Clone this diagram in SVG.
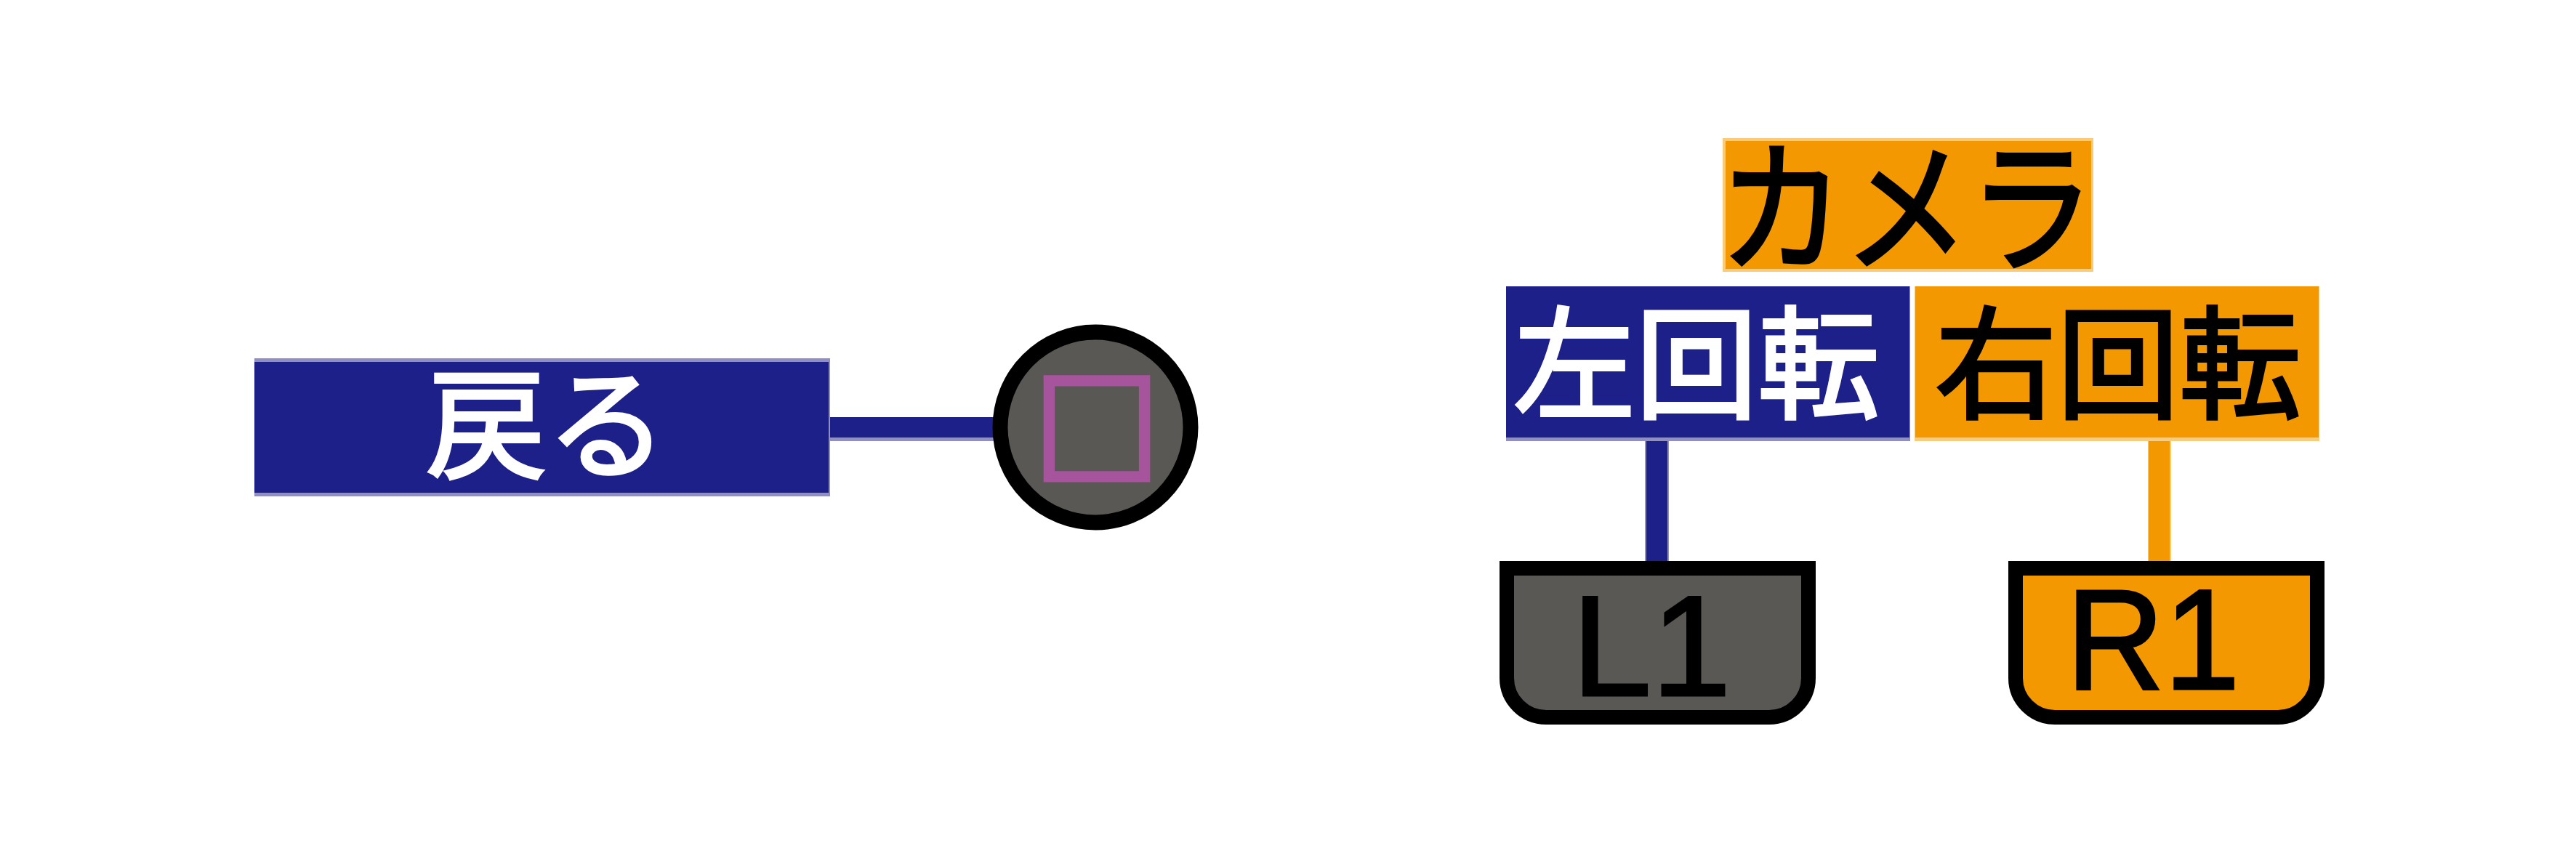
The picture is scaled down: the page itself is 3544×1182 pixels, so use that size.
<svg xmlns="http://www.w3.org/2000/svg" width="3544" height="1182" viewBox="0 0 3544 1182">
<style>
.t{font-family:"Noto Sans CJK JP","Noto Sans CJK SC",sans-serif;text-anchor:middle;stroke-width:4}
.l{font-family:"Liberation Sans",sans-serif;text-anchor:middle;stroke-width:3}
.bt{fill:#8f8fc6}.b{fill:#1d2088}.ot{fill:#f9cb7c}.o{fill:#f39800}
.g{fill:#595855;stroke:#000;stroke-width:20}.og{fill:#f39800;stroke:#000;stroke-width:20}
.w{fill:#fff;stroke:#fff}.k{fill:#000;stroke:#000}
</style>
<rect width="3544" height="1182" fill="#fff"/>
<g id="connectors">
<rect class="bt" x="1141" y="574" width="240" height="33"/>
<rect class="b" x="1141" y="574" width="240" height="28"/>
<rect class="bt" x="2263" y="600" width="33" height="172"/>
<rect class="b" x="2265" y="600" width="29" height="172"/>
<rect class="ot" x="2955" y="600" width="32" height="172"/>
<rect class="o" x="2956" y="600" width="29" height="172"/>
</g>
<g id="node-back">
<rect class="bt" x="350" y="493" width="792" height="190"/>
<rect class="b" x="350" y="498" width="790" height="180"/>
<text class="t w" x="752" y="645" font-size="166">戻る</text>
</g>
<g id="node-square">
<circle cx="1507" cy="588" r="131" fill="#595855" stroke="#000" stroke-width="21"/>
<text class="t" x="1509" y="655" font-size="172" fill="#a6549c" stroke="#a6549c" style="stroke-width:9">□</text>
</g>
<g id="node-camera">
<rect class="ot" x="2370" y="190" width="510" height="184"/>
<rect class="o" x="2374" y="194" width="503" height="176"/>
<text class="t k" transform="translate(2623 358) scale(1 1.14)" font-size="172">カメラ</text>
</g>
<g id="node-left">
<rect class="bt" x="2072" y="394" width="556" height="213"/>
<rect class="b" x="2072" y="394" width="555" height="208"/>
<text class="t w" x="2334" y="563" font-size="168">左回転</text>
</g>
<g id="node-right">
<rect class="ot" x="2634" y="394" width="557" height="213"/>
<rect class="o" x="2635" y="394" width="555" height="208"/>
<text class="t k" x="2914" y="563" font-size="168">右回転</text>
</g>
<g id="node-l1">
<path class="g" d="M2073 782H2488V933A54 54 0 0 1 2434 987H2127A54 54 0 0 1 2073 933Z"/>
<text class="l k" x="2272" y="957" font-size="197">L1</text>
</g>
<g id="node-r1">
<path class="og" d="M2773 782H3188V933A54 54 0 0 1 3134 987H2827A54 54 0 0 1 2773 933Z"/>
<text class="l k" transform="translate(2962 948) scale(.95 1)" font-size="197">R1</text>
</g>
</svg>
